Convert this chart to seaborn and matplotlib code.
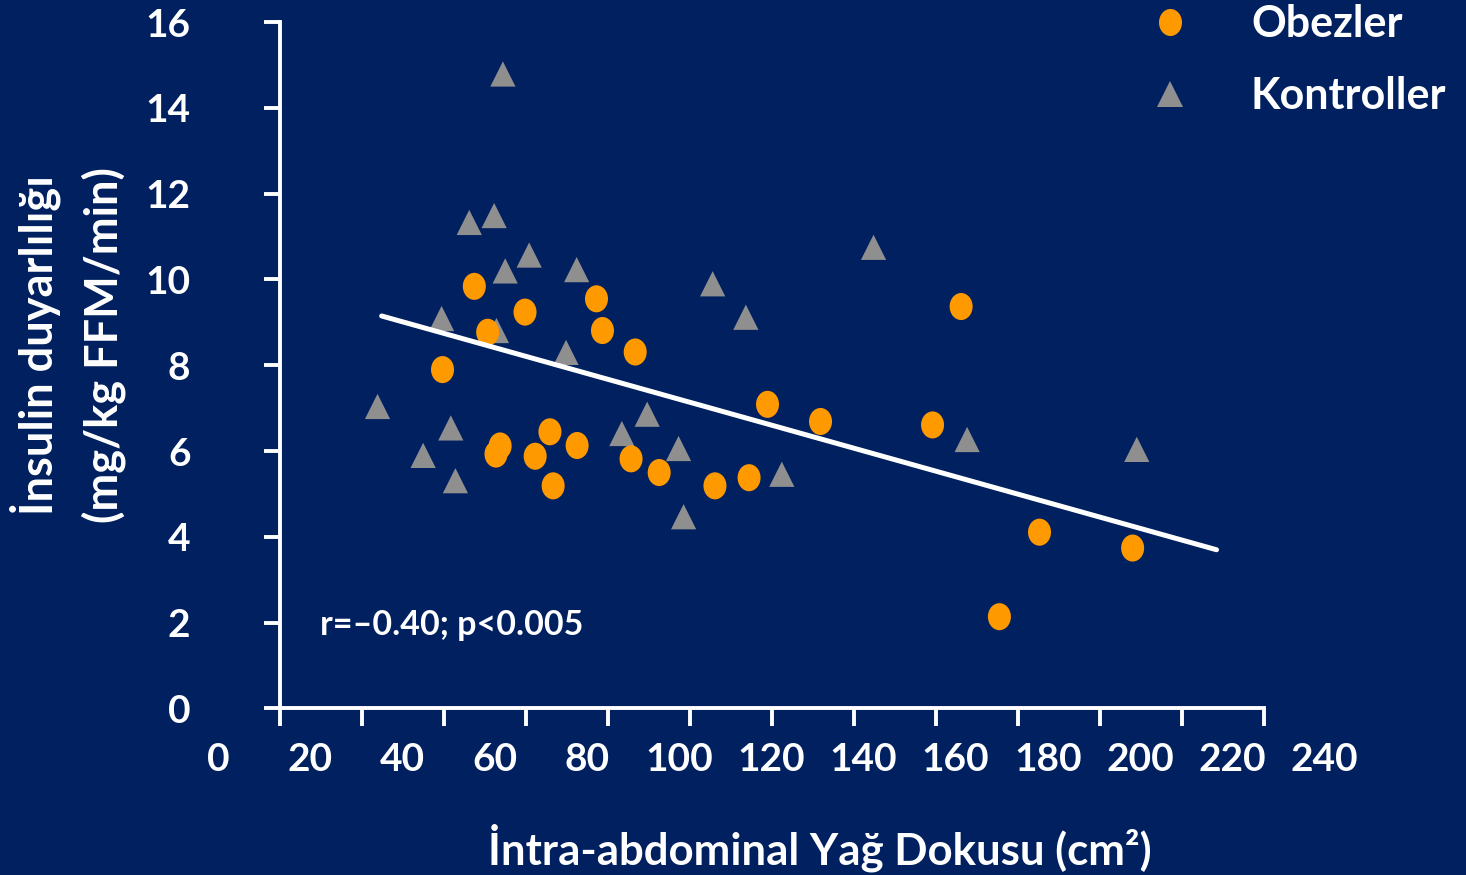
import numpy as np
import pandas as pd
import matplotlib
matplotlib.use("Agg")
import matplotlib.pyplot as plt
import seaborn as sns
from matplotlib.path import Path
from matplotlib.transforms import Affine2D

# values
obez_x = [48.7, 55.6, 58.5, 60.3, 61.2, 66.6, 68.8, 72.0, 72.7, 77.9, 82.1, 83.4,
          89.6, 90.5, 95.7, 107.8, 115.2, 119.2, 130.7, 155.0, 161.2, 169.5, 178.2, 198.4]
obez_y = [7.90, 9.84, 8.77, 5.93, 6.12, 9.24, 5.88, 6.45, 5.19, 6.13, 9.55, 8.81,
          5.82, 8.31, 5.50, 5.19, 5.38, 7.09, 6.69, 6.61, 9.37, 2.14, 4.11, 3.74]

kontrol_x = [34.6, 44.5, 48.5, 50.5, 51.5, 54.5, 59.9, 60.4, 61.8, 62.3, 67.5, 75.5,
             77.8, 87.6, 93.1, 99.9, 101.0, 107.3, 114.5, 122.3, 142.2, 162.5, 199.3]
kontrol_y = [7.04, 5.90, 9.09, 6.54, 5.31, 11.33, 11.49, 8.81, 14.79, 10.20, 10.57, 8.30,
             10.23, 6.41, 6.86, 6.06, 4.47, 9.90, 9.12, 5.46, 10.75, 6.27, 6.04]

# regression line end points
fit_x = [35.5, 216.6]
fit_y = [9.15, 3.70]

groups = ["Obezler", "Kontroller"]
x_tick_labels = ["0", "20", "40", "60", "80", "100", "120", "140", "160", "180", "200", "220", "240"]
y_ticks = [0, 2, 4, 6, 8, 10, 12, 14, 16]

bg = "#00205F"
colors = {"Obezler": "#FF9900", "Kontroller": "#8F8F8F"}

df = pd.concat([
    pd.DataFrame({"x": kontrol_x, "y": kontrol_y, "grup": "Kontroller"}),
    pd.DataFrame({"x": obez_x, "y": obez_y, "grup": "Obezler"}),
], ignore_index=True)

sns.set_theme(style="ticks")
plt.rcParams["font.family"] = ["Lato", "DejaVu Sans"]
plt.rcParams["font.weight"] = "bold"

fig = plt.figure(figsize=(14.66, 8.75), dpi=100, facecolor=bg)
ax = fig.add_axes([0.11726, 0.19029, 0.81760, 0.78446])
ax.set_facecolor(bg)

ellipse = Path.unit_circle().transformed(Affine2D().scale(0.85, 1.0))

sns.scatterplot(data=df, x="x", y="y", hue="grup", style="grup", size="grup",
                hue_order=groups, style_order=groups, size_order=groups,
                palette=colors, markers={"Obezler": ellipse, "Kontroller": "^"},
                sizes={"Obezler": 380, "Kontroller": 330},
                linewidth=0, ax=ax, zorder=3)
sns.lineplot(x=fit_x, y=fit_y, color="white", linewidth=3.6, ax=ax, zorder=4, legend=False)

ax.set_xlim(-10, 250)
ax.set_ylim(0, 16)
x0, x1 = 13.45, 226.9
ax.spines["top"].set_visible(False)
ax.spines["right"].set_visible(False)
ax.spines["left"].set_position(("data", x0))
ax.spines["left"].set_bounds(0, 16)
ax.spines["bottom"].set_bounds(x0, x1)
for s in ["left", "bottom"]:
    ax.spines[s].set_color("white")
    ax.spines[s].set_linewidth(2.8)

ax.set_xticks(np.linspace(x0, x1, 13))
ax.set_xticklabels([])
ax.set_xticks(np.arange(0, 241, 20), minor=True)
ax.set_xticklabels(x_tick_labels, minor=True)
ax.set_yticks(y_ticks)
ax.set_yticklabels([str(v) for v in y_ticks])
ax.tick_params(axis="x", which="major", direction="out", length=13, width=2.8, color="white")
ax.tick_params(axis="x", which="minor", length=0, pad=24, labelsize=28, labelcolor="white")
ax.tick_params(axis="y", direction="out", length=11.5, width=2.8, color="white",
               pad=53, labelsize=28, labelcolor="white")

ax.set_xlabel("İntra-abdominal Yağ Dokusu (cm²)", fontsize=31.5, color="white", fontweight="bold")
ax.xaxis.set_label_coords(0.5407, -0.2032)
ax.xaxis.label.set_va("center")
ax.set_ylabel("İnsulin duyarlılığı\n(mg/kg FFM/min)", fontsize=32.5, color="white",
              fontweight="bold", linespacing=1.55)
ax.yaxis.set_label_coords(-0.0867, 0.5296)
ax.yaxis.label.set_va("center")

ax.text(22.1, 1.95, "r=–0.40; p<0.005", color="white", fontsize=24.5, fontweight="bold",
        ha="left", va="center")

sns.move_legend(ax, "upper left", bbox_to_anchor=(1148.5 / 1466, 0.995), bbox_transform=fig.transFigure,
                frameon=False, title=None, fontsize=31, labelcolor="white", borderpad=0,
                borderaxespad=0, handlelength=1.0, handletextpad=1.38, labelspacing=0.74)

fig.savefig("out.png", dpi=100, facecolor=bg)
